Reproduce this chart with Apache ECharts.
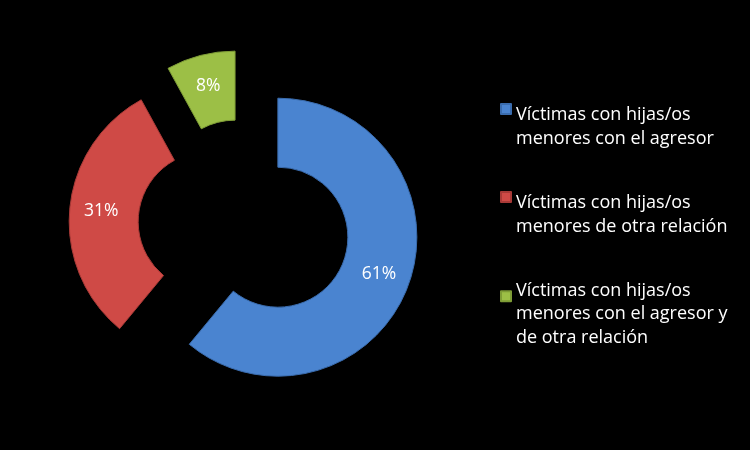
<!DOCTYPE html>
<html><head><meta charset="utf-8">
<script src="https://cdn.jsdelivr.net/npm/echarts@6/dist/echarts.min.js"></script>
<style>html,body{margin:0;padding:0;background:#000}#c{width:750px;height:450px}</style>
</head><body><div id="c"></div>
<script>
const categories = [
  'Víctimas con hijas/os\nmenores con el agresor',
  'Víctimas con hijas/os\nmenores de otra relación',
  'Víctimas con hijas/os\nmenores con el agresor y\nde otra relación'
];
const values = [61, 31, 8];
const colors = ['#4A84D0', '#CF4A46', '#9CBF46'];
const borders = ['#3A6CAE', '#A83A37', '#7E9C36'];

const chart = echarts.init(document.getElementById('c'), null, {renderer: 'canvas'});
const iconPath = 'path://M0,0L10,0L10,10L0,10Z M0,46';
chart.setOption({
  backgroundColor: '#000',
  animation: false,
  legend: {
    orient: 'vertical',
    left: 500,
    top: 103,
    padding: 0,
    itemWidth: 10,
    itemHeight: 46,
    itemGap: 40,
    icon: iconPath,
    data: categories,
    textStyle: {color: '#fff', fontFamily: 'Open Sans', fontSize: 18, lineHeight: 23.5},
    selectedMode: false
  },
  series: [{
    type: 'pie',
    center: [244, 225],
    radius: [70, 139],
    startAngle: 90,
    clockwise: true,
    selectedMode: 'multiple',
    selectedOffset: 36,
    label: {position: 'inside', formatter: '{d}%', color: '#fff', fontFamily: 'Open Sans', fontSize: 17.5},
    labelLine: {show: false},
    emphasis: {disabled: true},
    data: categories.map((n, i) => ({name: n, value: values[i], selected: true,
      itemStyle: {color: colors[i], borderColor: borders[i], borderWidth: 1}}))
  }]
});
</script></body></html>
